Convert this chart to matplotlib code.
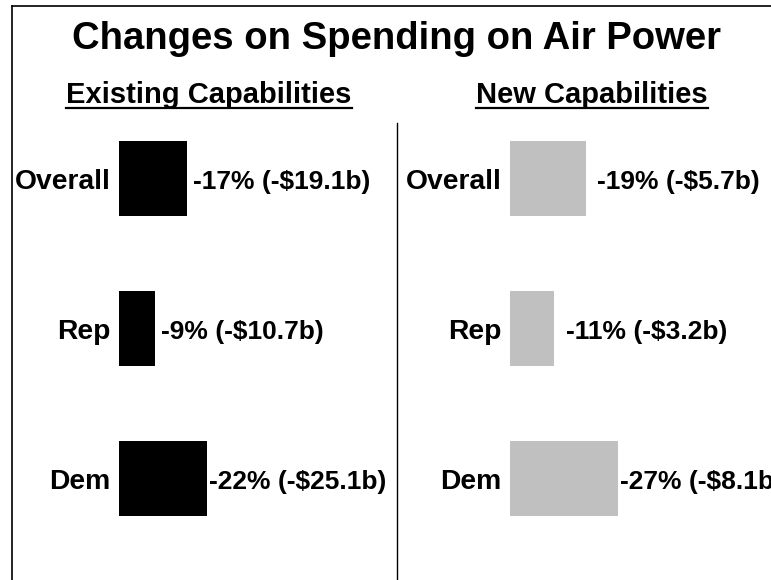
import matplotlib
matplotlib.use("Agg")
import matplotlib.pyplot as plt
from matplotlib.lines import Line2D

plt.rcParams['font.family'] = ['Liberation Sans', 'DejaVu Sans']

# data
groups = ['Overall', 'Rep', 'Dem']
existing_pct = [17, 9, 22]
existing_labels = ['-17% (-$19.1b)', '-9% (-$10.7b)', '-22% (-$25.1b)']
new_pct = [19, 11, 27]
new_labels = ['-19% (-$5.7b)', '-11% (-$3.2b)', '-27% (-$8.1b)']

# gap between bar end and its value label, in points
existing_gaps = [4.5, 4.5, 1.5]
new_gaps = [8, 8.5, 1.5]

W, H = 771, 580
fig = plt.figure(figsize=(W / 100, H / 100), dpi=100)
fig.patch.set_facecolor('white')

# frame lines (left and top) and the divider
fig.add_artist(Line2D([12 / W, 12 / W], [0, 1 - 6 / H], color='black', lw=1.2))
fig.add_artist(Line2D([12 / W, 1], [1 - 6 / H, 1 - 6 / H], color='black', lw=1.2))
fig.add_artist(Line2D([397 / W, 397 / W], [0, 1 - 123 / H], color='black', lw=1))

fig.text(397 / W, 1 - 39 / H, 'Changes on Spending on Air Power',
         ha='center', va='center', fontsize=27.5, fontweight='bold')

px_per_unit = 4.0   # pixels per percent
row_px = 150.0


def panel(x0_px, x1_px, pct, labels, gaps, color, subtitle, sub_x):
    ax = fig.add_axes([x0_px / W, 0, (x1_px - x0_px) / W, 457 / H])
    ax.set_xlim(0, (x1_px - x0_px) / px_per_unit)
    ax.set_ylim((580 - 178) / row_px, -(178 - 123) / row_px)
    ax.barh(range(len(groups)), pct, height=75 / row_px, color=color, left=0)
    for i, (g, v, lab, gap) in enumerate(zip(groups, pct, labels, gaps)):
        ax.annotate(g, (0, i), xytext=(-6, -3), textcoords='offset points',
                    ha='right', va='center', fontsize=20.3, fontweight='bold',
                    annotation_clip=False)
        ax.annotate(lab, (v, i), xytext=(gap, -3), textcoords='offset points',
                    ha='left', va='center', fontsize=19, fontweight='bold',
                    annotation_clip=False)
    ax.axis('off')
    t = fig.text(sub_x / W, 1 - 95 / H, subtitle, ha='center', va='center',
                 fontsize=21, fontweight='bold')
    return t


subs = []
subs.append(panel(119, 397, existing_pct, existing_labels, existing_gaps,
                  'black', 'Existing Capabilities', 209))
subs.append(panel(510, 771, new_pct, new_labels, new_gaps,
                  '#c0c0c0', 'New Capabilities', 592))

# underline subtitles
fig.canvas.draw()
r = fig.canvas.get_renderer()
for t in subs:
    bb = t.get_window_extent(r)
    y = (H - 108) / H
    fig.add_artist(Line2D([bb.x0 / W, bb.x1 / W], [y, y], color='black', lw=1.6))

fig.savefig('out.png', dpi=100, facecolor='white')
